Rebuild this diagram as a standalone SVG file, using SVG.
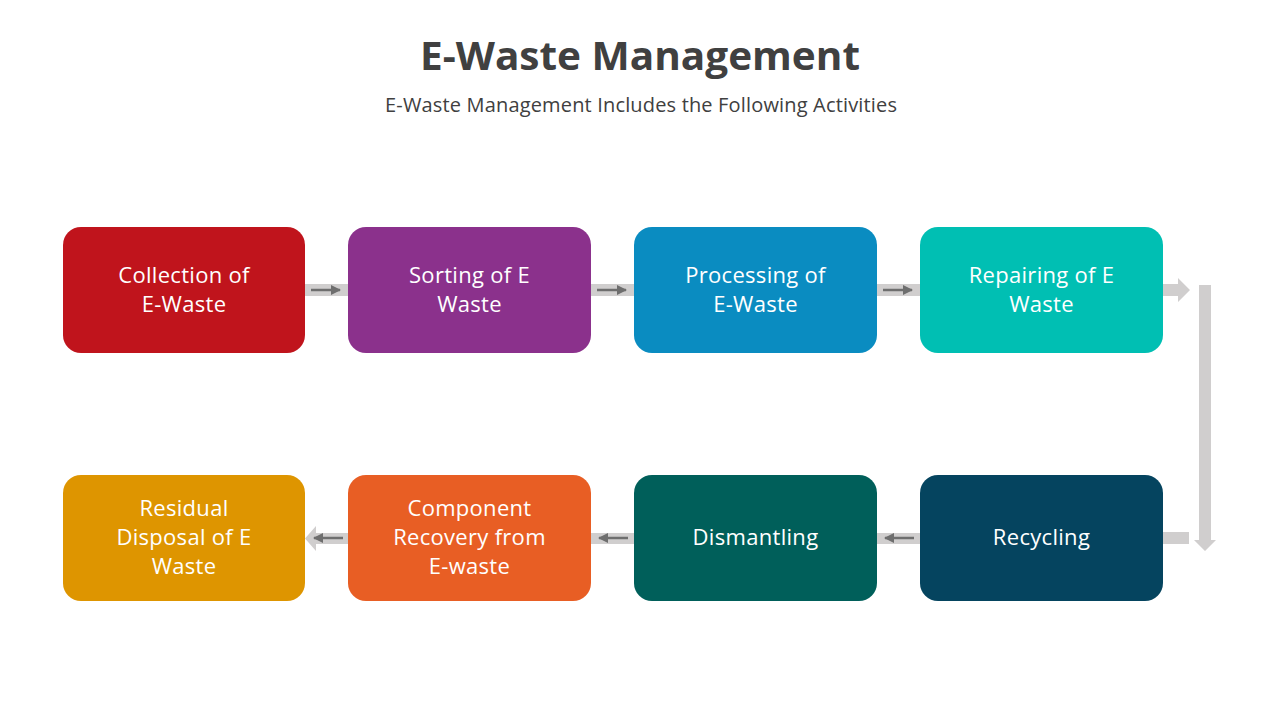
<svg xmlns="http://www.w3.org/2000/svg" width="1280" height="720" viewBox="0 0 1280 720">
<defs>
<style>
.title{font-family:"Open Sans","Liberation Sans",sans-serif;font-weight:bold;font-size:39px;fill:#404040;text-anchor:middle}
.sub{font-family:"Open Sans","Liberation Sans",sans-serif;font-size:20px;fill:#404040;text-anchor:middle}
.lbl{font-family:"Open Sans","Liberation Sans",sans-serif;font-size:22px;letter-spacing:0.3px;fill:#ffffff;text-anchor:middle}
.bar{fill:#D0CECE}
.ln{stroke:#6E6E6E;stroke-width:2.5;fill:none}
</style>
<marker id="ah" viewBox="0 0 10 10" refX="9" refY="5" markerWidth="4" markerHeight="4" orient="auto-start-reverse" markerUnits="strokeWidth">
<path d="M0,0 L10,5 L0,10 z" fill="#6E6E6E"/>
</marker>
</defs>
<rect width="1280" height="720" fill="#ffffff"/>
<text class="title" x="640" y="70" textLength="440" lengthAdjust="spacingAndGlyphs">E-Waste Management</text>
<text class="sub" x="641" y="112" textLength="512">E-Waste Management Includes the Following Activities</text>

<g id="connectors">
<rect class="bar" x="305" y="284" width="43" height="12"/>
<line class="ln" x1="311" y1="290" x2="340" y2="290" marker-end="url(#ah)"/>
<rect class="bar" x="591" y="284" width="43" height="12"/>
<line class="ln" x1="597" y1="290" x2="626" y2="290" marker-end="url(#ah)"/>
<rect class="bar" x="877" y="284" width="43" height="12"/>
<line class="ln" x1="883" y1="290" x2="912" y2="290" marker-end="url(#ah)"/>
<path class="bar" d="M1163,284 H1178 V278 L1190,290 L1178,302 V296 H1163 Z"/>
<path class="bar" d="M1199,285 H1211 V540 H1216 L1205,551 L1194,540 H1199 Z"/>
<rect class="bar" x="1163" y="532" width="26" height="12"/>
<rect class="bar" x="877" y="533" width="43" height="11"/>
<line class="ln" x1="914" y1="538" x2="885" y2="538" marker-end="url(#ah)"/>
<rect class="bar" x="591" y="533" width="43" height="11"/>
<line class="ln" x1="628" y1="538" x2="599" y2="538" marker-end="url(#ah)"/>
<path class="bar" d="M348,533 H316 V526 L305,538.5 L316,551 V544 H348 Z"/>
<line class="ln" x1="343" y1="538" x2="314" y2="538" marker-end="url(#ah)"/>
</g>

<g id="n1"><rect x="63" y="227" width="242" height="126" rx="18" fill="#C0141C"/>
<text class="lbl" x="184" y="283">Collection of</text><text class="lbl" x="184" y="312">E-Waste</text></g>
<g id="n2"><rect x="348" y="227" width="243" height="126" rx="18" fill="#8B318C"/>
<text class="lbl" x="469.5" y="283">Sorting of E</text><text class="lbl" x="469.5" y="312">Waste</text></g>
<g id="n3"><rect x="634" y="227" width="243" height="126" rx="18" fill="#0A8CC1"/>
<text class="lbl" x="755.5" y="283">Processing of</text><text class="lbl" x="755.5" y="312">E-Waste</text></g>
<g id="n4"><rect x="920" y="227" width="243" height="126" rx="18" fill="#00BFB3"/>
<text class="lbl" x="1041.5" y="283">Repairing of E</text><text class="lbl" x="1041.5" y="312">Waste</text></g>
<g id="n5"><rect x="920" y="475" width="243" height="126" rx="18" fill="#05445F"/>
<text class="lbl" x="1041.5" y="545">Recycling</text></g>
<g id="n6"><rect x="634" y="475" width="243" height="126" rx="18" fill="#005F5A"/>
<text class="lbl" x="755.5" y="545">Dismantling</text></g>
<g id="n7"><rect x="348" y="475" width="243" height="126" rx="18" fill="#E85E24"/>
<text class="lbl" x="469.5" y="516">Component</text><text class="lbl" x="469.5" y="545">Recovery from</text><text class="lbl" x="469.5" y="574">E-waste</text></g>
<g id="n8"><rect x="63" y="475" width="242" height="126" rx="18" fill="#DE9500"/>
<text class="lbl" x="184" y="516">Residual</text><text class="lbl" x="184" y="545">Disposal of E</text><text class="lbl" x="184" y="574">Waste</text></g>
</svg>
